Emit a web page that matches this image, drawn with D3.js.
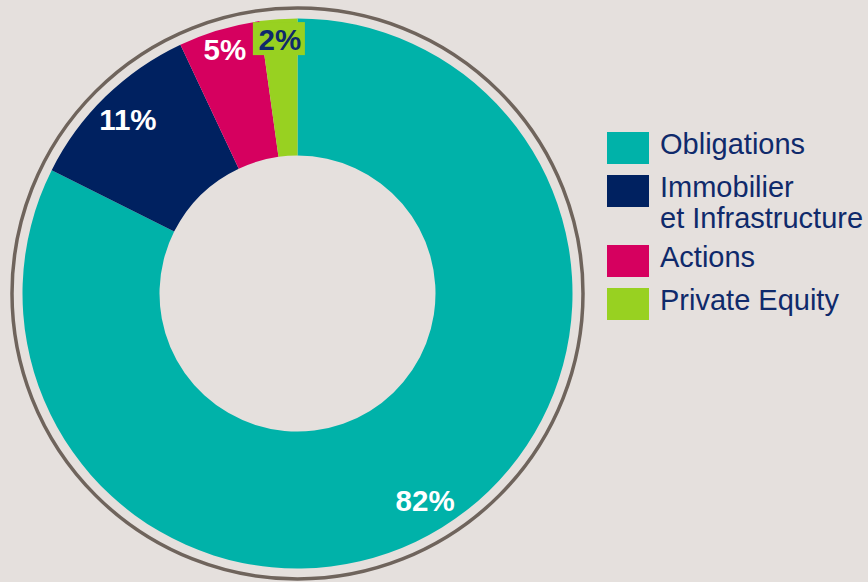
<!DOCTYPE html>
<html>
<head>
<meta charset="utf-8">
<script src="https://cdn.jsdelivr.net/npm/d3@7"></script>
<style>
  body { margin: 0; background: #e5e0dd; }
  text { font-family: "Liberation Sans", Arial, sans-serif; }
</style>
</head>
<body>
<script>
// data
var categories = ["Obligations", "Immobilier et Infrastructure", "Actions", "Private Equity"];
var legendLines = [["Obligations"], ["Immobilier", "et Infrastructure"], ["Actions"], ["Private Equity"]];
var values = [82.4, 10.6, 4.8, 2.2];
var labels = ["82%", "11%", "5%", "2%"];
var colors = ["#00b2a9", "#002160", "#d6005f", "#98d121"];

var w = 868, h = 582;
var cx = 297.5, cy = 293.5;

var svg = d3.select("body").append("svg")
  .attr("width", w)
  .attr("height", h);

svg.append("rect")
  .attr("width", w).attr("height", h)
  .style("fill", "#e5e0dd");

var g = svg.append("g").attr("transform", "translate(" + cx + "," + cy + ")");

// outer ring
g.append("circle")
  .attr("r", 285.5)
  .style("fill", "none")
  .style("stroke", "#6f645c")
  .style("stroke-width", 3.5);

var pie = d3.pie().sort(null).value(function(d){ return d; });
var arcs = pie(values);

var arc = d3.arc().innerRadius(138).outerRadius(275);

g.selectAll("path.slice")
  .data(arcs)
  .enter().append("path")
  .attr("class", "slice")
  .attr("d", arc)
  .style("fill", function(d, i){ return colors[i]; });

// labels: small slices sit a bit further out
function labelR(d){ return (d.endAngle - d.startAngle) < 0.5 ? 255 : 243; }

var lab = g.selectAll("g.lab")
  .data(arcs)
  .enter().append("g")
  .attr("class", "lab")
  .attr("transform", function(d){
    var a = (d.startAngle + d.endAngle) / 2, r = labelR(d);
    return "translate(" + (Math.sin(a) * r) + "," + (-Math.cos(a) * r) + ")";
  });

// green box behind the smallest label
lab.filter(function(d, i){ return i === 3; })
  .append("rect")
  .attr("x", -27).attr("y", -17)
  .attr("width", 52).attr("height", 33)
  .style("fill", colors[3]);

lab.append("text")
  .attr("text-anchor", "middle")
  .attr("dy", "0.36em")
  .style("font-size", "29.5px")
  .style("font-weight", "bold")
  .style("fill", function(d, i){ return i === 3 ? "#0f2a6b" : "#ffffff"; })
  .text(function(d, i){ return labels[i]; });

// legend
var legendTop = [132, 175, 245, 288];
var leg = svg.selectAll("g.leg")
  .data(categories)
  .enter().append("g")
  .attr("class", "leg")
  .attr("transform", function(d, i){ return "translate(607," + legendTop[i] + ")"; });

leg.append("rect")
  .attr("width", 42).attr("height", 32)
  .style("fill", function(d, i){ return colors[i]; });

leg.append("text")
  .attr("x", 53)
  .attr("y", 22)
  .style("font-size", "29px")
  .style("fill", "#0f2a6b")
  .selectAll("tspan")
  .data(function(d, i){ return legendLines[i]; })
  .enter().append("tspan")
  .attr("x", 53)
  .attr("dy", function(d, j){ return j === 0 ? 0 : 30.5; })
  .text(function(d){ return d; });
</script>
</body>
</html>
